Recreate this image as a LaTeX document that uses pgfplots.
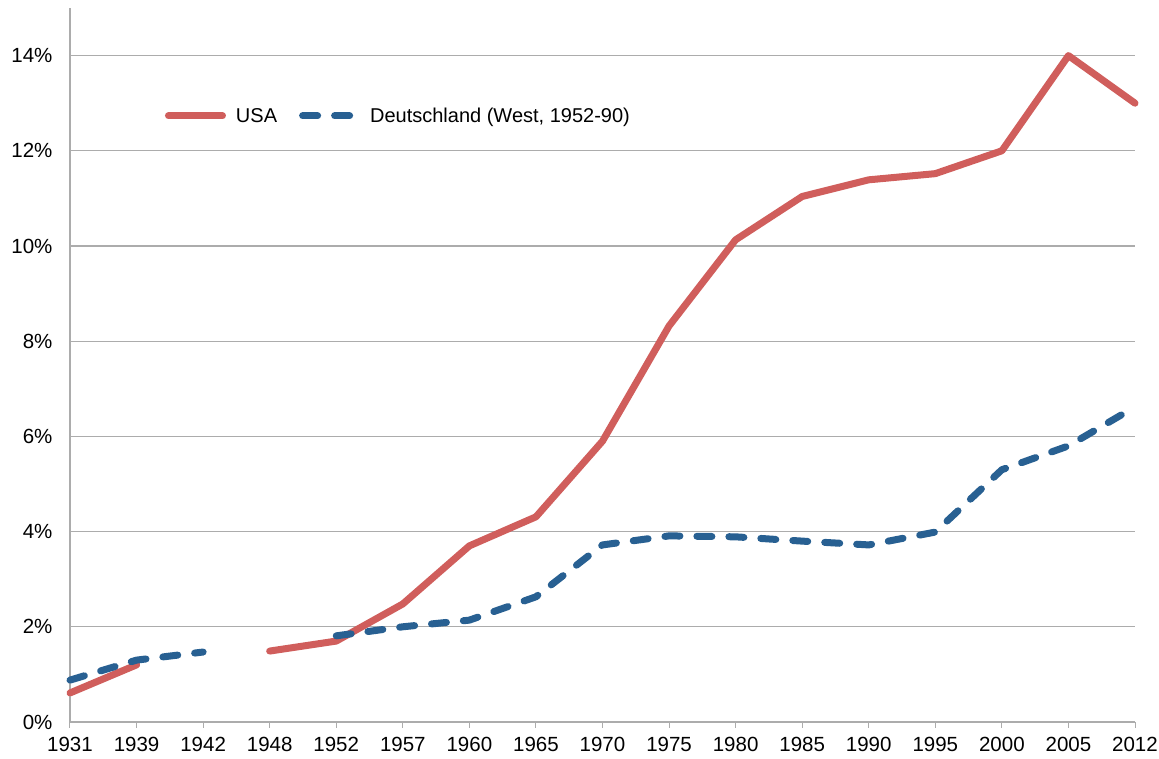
\documentclass[border=0pt]{standalone}
\usepackage{pgfplots}
\pgfplotsset{compat=1.18}
\usepackage{fontspec}
\setmainfont{Liberation Sans}
\definecolor{usared}{RGB}{208,94,92}
\definecolor{deblue}{RGB}{40,96,146}
\definecolor{gridgray}{RGB}{172,172,172}
\begin{document}
\begin{tikzpicture}
\path[use as bounding box] (-70pt,-37pt) rectangle (1089pt,722pt);
\begin{axis}[
  at={(0pt,0pt)}, anchor=south west,
  scale only axis,
  width=1065pt, height=714pt,
  xmin=0, xmax=16, ymin=0, ymax=15,
  xtick={0,...,16},
  xticklabels={1931,1939,1942,1948,1952,1957,1960,1965,1970,1975,1980,1985,1990,1995,2000,2005,2012},
  ytick={0,2,4,6,8,10,12,14},
  yticklabels={0\%,2\%,4\%,6\%,8\%,10\%,12\%,14\%},
  ymajorgrids,
  grid style={gridgray, line width=1.2pt},
  axis x line*=bottom,
  axis y line*=left,
  x axis line style={gridgray, dashed, line width=1pt, -},
  y axis line style={gridgray, line width=1.5pt, -},
  xtick style={gridgray, line width=1pt},
  ytick style={draw=none},
  tick align=outside,
  major tick length=6pt,
  ticklabel style={font=\fontsize{20.5}{24}\selectfont},
  xticklabel style={yshift=-6pt},
  yticklabel style={xshift=-8pt},
  unbounded coords=jump,
  clip=false,
  legend style={draw=none, fill=none, at={(0.089,0.849)}, anchor=west, legend columns=2,
    inner sep=0pt, font=\fontsize{20}{24}\selectfont,
    /tikz/every odd column/.append style={column sep=8pt},
    /tikz/every even column/.append style={column sep=20pt}},
  legend cell align=left,
  legend image code/.code={\draw[#1, line cap=round] (0pt,0pt) -- (54pt,0pt);},
]
\addplot[usared, line width=7pt, line cap=round, line join=round] coordinates {
(0,0.61) (1,1.2) (2,nan) (3,1.49) (4,1.70) (5,2.48) (6,3.70) (7,4.31) (8,5.90) (9,8.32)
(10,10.13) (11,11.04) (12,11.39) (13,11.52) (14,12.0) (15,14.0) (16,13.0)};
\addlegendentry{USA}
\addplot[deblue, line width=7pt, line cap=round, line join=round, dash pattern=on 15pt off 17pt] coordinates {
(0,0.88) (1,1.30) (2,1.47) (3,nan) (4,1.81) (5,2.0) (6,2.14) (7,2.63) (8,3.72) (9,3.91)
(10,3.89) (11,3.80) (12,3.72) (13,3.99) (14,5.30) (15,5.80) (16,6.62)};
\addlegendentry{Deutschland (West, 1952-90)}
\end{axis}
\end{tikzpicture}
\end{document}
